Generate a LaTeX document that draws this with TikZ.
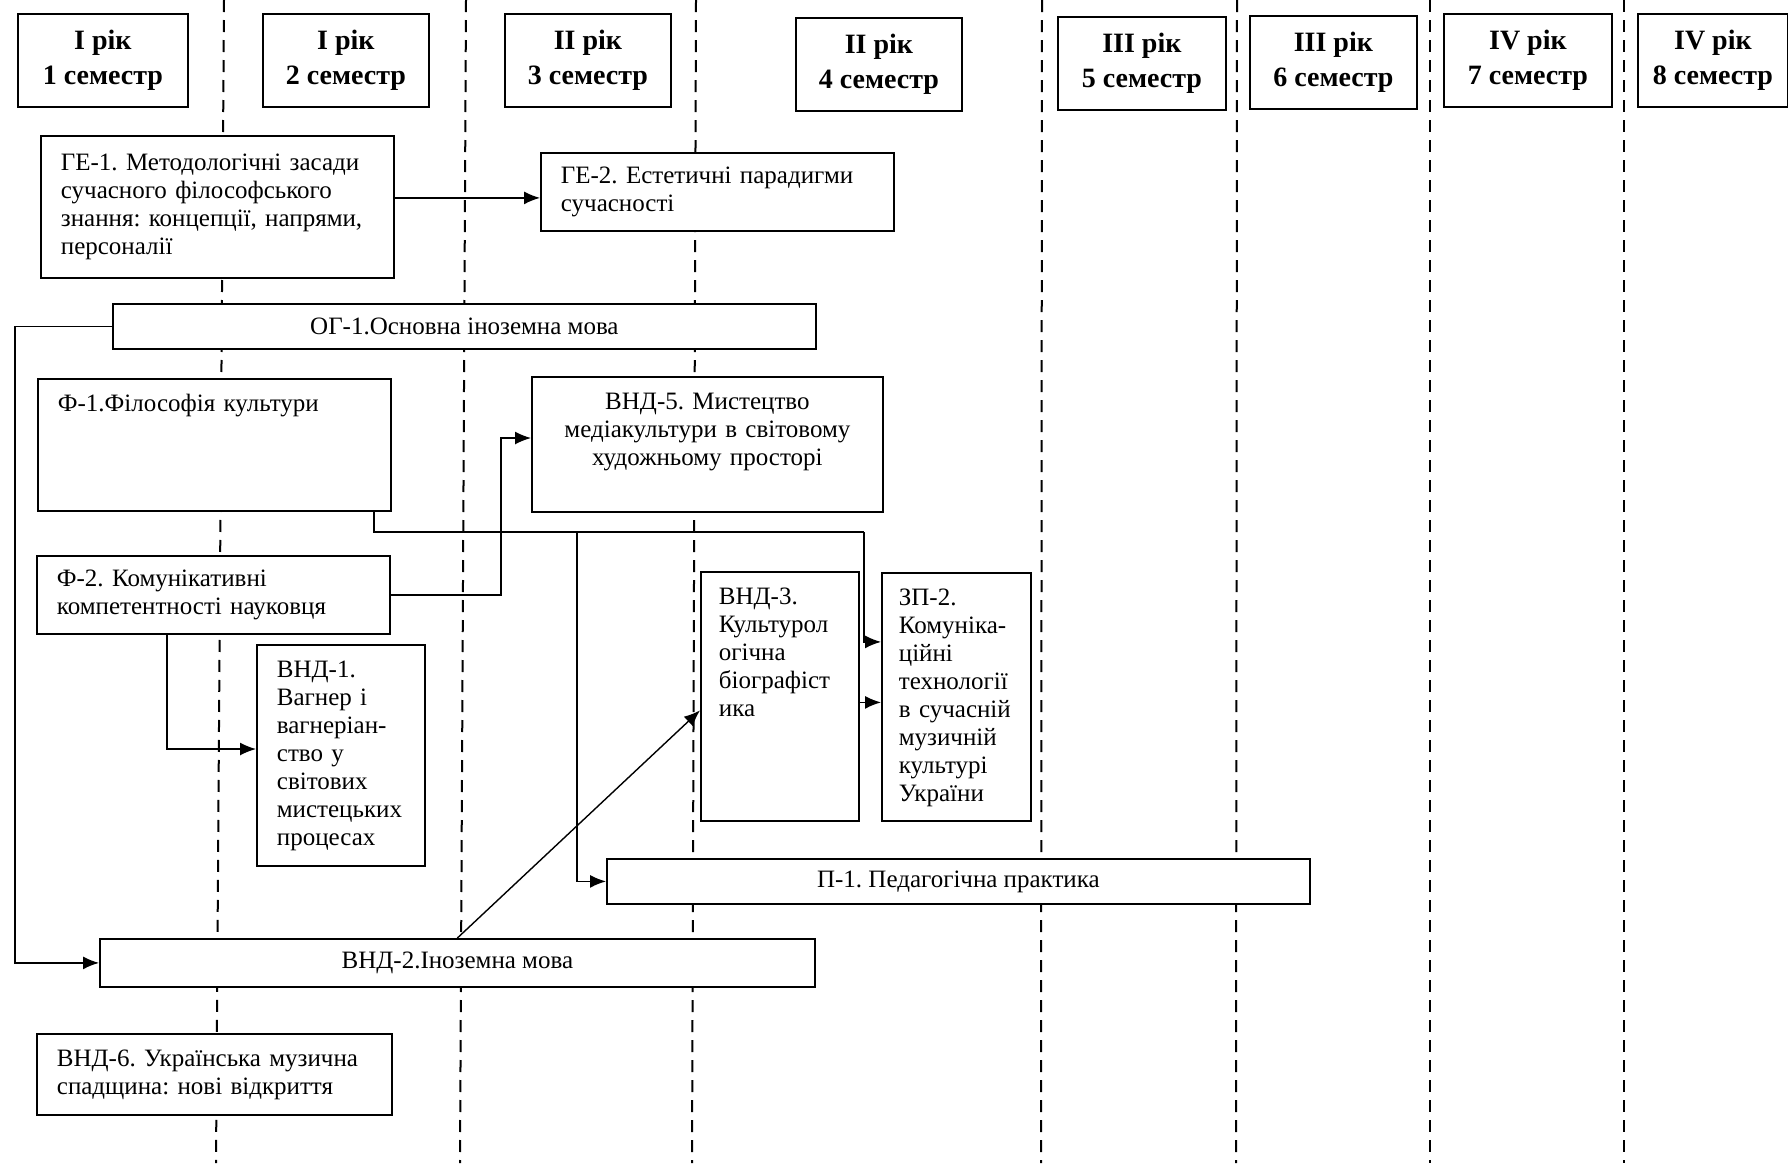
\documentclass[tikz,border=0pt]{standalone}
\usepackage{fontspec}
\setmainfont{Liberation Serif}
\usepackage{tikz}
\usetikzlibrary{arrows.meta,positioning}
\frenchspacing
\tikzset{
  box/.style={draw, fill=white, line width=0.9pt, anchor=north west,
    font=\fontsize{12.5}{14}\selectfont, inner ysep=4pt},
  lbox/.style={box, align=left, inner xsep=10pt, text width=#1},
  cbox/.style={box, align=center, minimum width=#1},
  topbox/.style={inner ysep=7.5pt, text height=9pt, text depth=#1},
  semhead/.style={draw, fill=white, line width=0.9pt, anchor=north west,
    font=\fontsize{14}{17.5}\selectfont\bfseries, align=center,
    minimum width=#1, minimum height=46.5pt},
  divider/.style={dash pattern=on 6pt off 4pt, line width=1pt},
  conn/.style={line width=0.7pt},
  arr/.style={conn, -{Latex[length=8pt,width=6.5pt]}},
}
\begin{document}
\begin{tikzpicture}[x=0.5pt, y=-0.5pt]
    \fill[white] (0,0) rectangle (1788,1163);
    \useasboundingbox (0,0) rectangle (1788,1163);

    \foreach \xt/\xb in {224/216, 466/460, 696/692, 1042/1041, 1237/1236, 1430/1430, 1624/1624}
        \draw[divider] (\xt,0) -- (\xb,1163);

    \node[semhead=85pt] (sem1) at (17,13) {I рік\\1 семестр};
    \node[semhead=83pt] (sem2) at (262,13) {I рік\\2 семестр};
    \node[semhead=83pt] (sem3) at (504,13) {II рік\\3 семестр};
    \node[semhead=83pt] (sem4) at (795,17) {II рік\\4 семестр};
    \node[semhead=84pt] (sem5) at (1057,16) {III рік\\5 семестр};
    \node[semhead=83.5pt] (sem6) at (1249,15) {III рік\\6 семестр};
    \node[semhead=84pt] (sem7) at (1443,13) {IV рік\\7 семестр};
    \node[semhead=75pt] (sem8) at (1637,13) {IV рік\\8 семестр};

    \node[lbox=156.5pt, minimum height=71pt] (ge1) at (40,135)
        {ГЕ-1. Методологічні засади\\сучасного філософського\\знання: концепції, напрями,\\персоналії};
    \node[lbox=156.5pt, minimum height=39pt] (ge2) at (540,152)
        {ГЕ-2. Естетичні парадигми\\сучасності};
    \node[cbox=351.5pt, minimum height=22.5pt] (og1) at (112,303) {ОГ-1.Основна іноземна мова};
    \node[lbox=156.5pt, topbox=42pt] (f1) at (37,378) {Ф-1.Філософія культури};
    \node[lbox=155.5pt, align=center, topbox=43.5pt] (vnd5) at (531,376)
        {ВНД-5. Мистецтво\\медіакультури в світовому\\художньому просторі};
    \node[lbox=156.5pt, minimum height=39pt] (f2) at (36,555)
        {Ф-2. Комунікативні\\компетентності науковця};
    \node[lbox=64pt, minimum height=110.5pt] (vnd1) at (256,644)
        {ВНД-1.\\Вагнер і\\вагнеріан-\\ство у\\світових\\мистецьких\\процесах};
    \node[lbox=61pt, inner xsep=9pt, topbox=100.5pt] (vnd3) at (700,571)
        {ВНД-3.\\Культурол\\огічна\\біографіст\\ика};
    \node[lbox=57.5pt, inner xsep=8.5pt, topbox=100pt] (zp2) at (881,572)
        {ЗП-2.\\Комуніка-\\ційні\\технології\\в сучасній\\музичній\\культурі\\України};
    \node[cbox=351.5pt, minimum height=22.5pt] (p1) at (606,858) {П-1. Педагогічна практика};
    \node[cbox=357.5pt, minimum height=24pt] (vnd2) at (99,938) {ВНД-2.Іноземна мова};
    \node[lbox=157.5pt, minimum height=40.5pt] (vnd6) at (36,1033)
        {ВНД-6. Українська музична\\спадщина: нові відкриття};

    \draw[arr] ([yshift=4.5pt]ge1.east) -- ([yshift=4.5pt]ge1.east -| ge2.west);

    \coordinate (vog) at (15,962);
    \draw[arr] (og1.west) -| (vog) |- (vnd2.west);

    \coordinate (vf1) at (374,532);
    \coordinate (vzp) at (864,532);
    \coordinate (vp1) at (577,532);
    \draw[conn] (vf1 |- f1.south) -- (vf1) -- (vzp);
    \draw[arr] (vzp) |- ([yshift=27.5pt]zp2.west);
    \draw[arr] (vp1) |- (p1.west);

    \coordinate (vf2) at (501,438);
    \draw[arr] (f2.east) -| (vf2) -- (vf2 -| vnd5.west);
    \coordinate (vf2b) at (167,749);
    \draw[arr] (vf2b |- f2.south) -- (vf2b) -- (vf2b -| vnd1.west);

    \draw[arr] (vnd2.north) -- ([yshift=-7pt]vnd3.west);
    \draw[arr] ([yshift=-3pt]vnd3.east) -- ([yshift=-3pt]vnd3.east -| zp2.west);
\end{tikzpicture}
\end{document}
